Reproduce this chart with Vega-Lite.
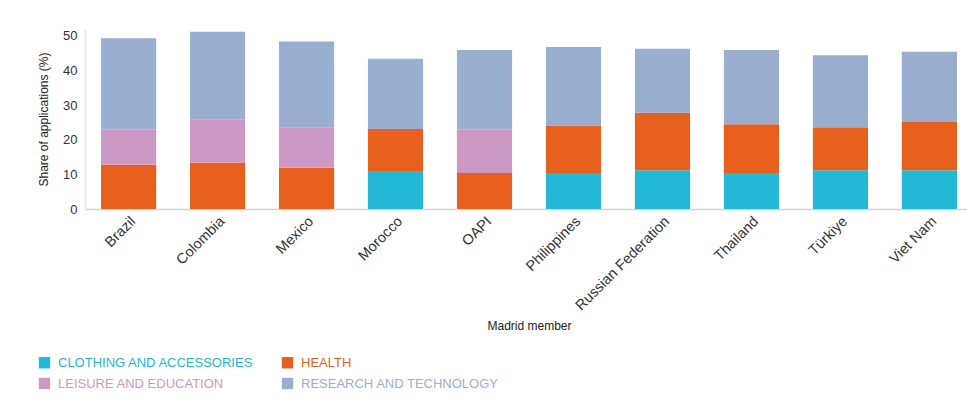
{
  "$schema": "https://vega.github.io/schema/vega-lite/v6.json",
  "autosize": {"type": "none"},
  "padding": {"left": 85, "top": 29, "right": 0, "bottom": 191},
  "width": 888,
  "height": 180,
  "background": "white",
  "config": {
    "view": {"stroke": null},
    "font": "Liberation Sans"
  },
  "data": {
    "values": [
      {"member": "Brazil", "category": "HEALTH", "ord": 2, "value": 12.8},
      {"member": "Brazil", "category": "LEISURE AND EDUCATION", "ord": 3, "value": 10.2},
      {"member": "Brazil", "category": "RESEARCH AND TECHNOLOGY", "ord": 4, "value": 26.3},
      {"member": "Colombia", "category": "HEALTH", "ord": 2, "value": 13.4},
      {"member": "Colombia", "category": "LEISURE AND EDUCATION", "ord": 3, "value": 12.5},
      {"member": "Colombia", "category": "RESEARCH AND TECHNOLOGY", "ord": 4, "value": 25.3},
      {"member": "Mexico", "category": "HEALTH", "ord": 2, "value": 11.9},
      {"member": "Mexico", "category": "LEISURE AND EDUCATION", "ord": 3, "value": 11.7},
      {"member": "Mexico", "category": "RESEARCH AND TECHNOLOGY", "ord": 4, "value": 24.8},
      {"member": "Morocco", "category": "CLOTHING AND ACCESSORIES", "ord": 1, "value": 11.0},
      {"member": "Morocco", "category": "HEALTH", "ord": 2, "value": 12.1},
      {"member": "Morocco", "category": "RESEARCH AND TECHNOLOGY", "ord": 4, "value": 20.3},
      {"member": "OAPI", "category": "HEALTH", "ord": 2, "value": 10.4},
      {"member": "OAPI", "category": "LEISURE AND EDUCATION", "ord": 3, "value": 12.6},
      {"member": "OAPI", "category": "RESEARCH AND TECHNOLOGY", "ord": 4, "value": 22.9},
      {"member": "Philippines", "category": "CLOTHING AND ACCESSORIES", "ord": 1, "value": 10.4},
      {"member": "Philippines", "category": "HEALTH", "ord": 2, "value": 13.7},
      {"member": "Philippines", "category": "RESEARCH AND TECHNOLOGY", "ord": 4, "value": 22.7},
      {"member": "Russian Federation", "category": "CLOTHING AND ACCESSORIES", "ord": 1, "value": 11.2},
      {"member": "Russian Federation", "category": "HEALTH", "ord": 2, "value": 16.6},
      {"member": "Russian Federation", "category": "RESEARCH AND TECHNOLOGY", "ord": 4, "value": 18.5},
      {"member": "Thailand", "category": "CLOTHING AND ACCESSORIES", "ord": 1, "value": 10.4},
      {"member": "Thailand", "category": "HEALTH", "ord": 2, "value": 14.1},
      {"member": "Thailand", "category": "RESEARCH AND TECHNOLOGY", "ord": 4, "value": 21.4},
      {"member": "Türkiye", "category": "CLOTHING AND ACCESSORIES", "ord": 1, "value": 11.2},
      {"member": "Türkiye", "category": "HEALTH", "ord": 2, "value": 12.4},
      {"member": "Türkiye", "category": "RESEARCH AND TECHNOLOGY", "ord": 4, "value": 20.8},
      {"member": "Viet Nam", "category": "CLOTHING AND ACCESSORIES", "ord": 1, "value": 11.2},
      {"member": "Viet Nam", "category": "HEALTH", "ord": 2, "value": 13.9},
      {"member": "Viet Nam", "category": "RESEARCH AND TECHNOLOGY", "ord": 4, "value": 20.3}
    ]
  },
  "mark": {"type": "bar"},
  "encoding": {
    "x": {
      "field": "member",
      "type": "nominal",
      "sort": null,
      "scale": {"paddingInner": 0.38, "paddingOuter": 0.18},
      "axis": {
        "title": "Madrid member",
        "titleFontSize": 12,
        "titleFontWeight": "normal",
        "titleColor": "#222",
        "titlePadding": 8,
        "labelAngle": -45,
        "labelFontSize": 14.5,
        "labelColor": "#333",
        "ticks": false,
        "labelPadding": 5,
        "domainColor": "#d4d4d4",
        "domainWidth": 1.5
      }
    },
    "y": {
      "field": "value",
      "type": "quantitative",
      "stack": "zero",
      "scale": {"domain": [0, 52], "nice": false},
      "axis": {
        "title": "Share of applications (%)",
        "titleFontSize": 12,
        "titleFontWeight": "normal",
        "titleColor": "#222",
        "titlePadding": 12,
        "values": [0, 10, 20, 30, 40, 50],
        "grid": false,
        "ticks": false,
        "labelFontSize": 13,
        "labelColor": "#333",
        "labelPadding": 8,
        "domainColor": "#e2e2e2",
        "domainWidth": 1.5
      }
    },
    "color": {
      "field": "category",
      "type": "nominal",
      "scale": {
        "domain": ["CLOTHING AND ACCESSORIES", "HEALTH", "LEISURE AND EDUCATION", "RESEARCH AND TECHNOLOGY"],
        "range": ["#22b8d6", "#e8601e", "#cc99c4", "#9aaed0"]
      },
      "legend": {
        "title": null,
        "orient": "none",
        "legendX": -47,
        "legendY": 327,
        "direction": "horizontal",
        "columns": 2,
        "columnPadding": 27,
        "rowPadding": 7,
        "symbolType": "square",
        "symbolSize": 130,
        "symbolStrokeWidth": 0,
        "labelFontSize": 13,
        "labelLimit": 0,
        "labelOffset": 7,
        "labelColor": {"expr": "scale('color', datum.value)"}
      }
    },
    "order": {"field": "ord", "type": "quantitative", "sort": "ascending"}
  }
}
